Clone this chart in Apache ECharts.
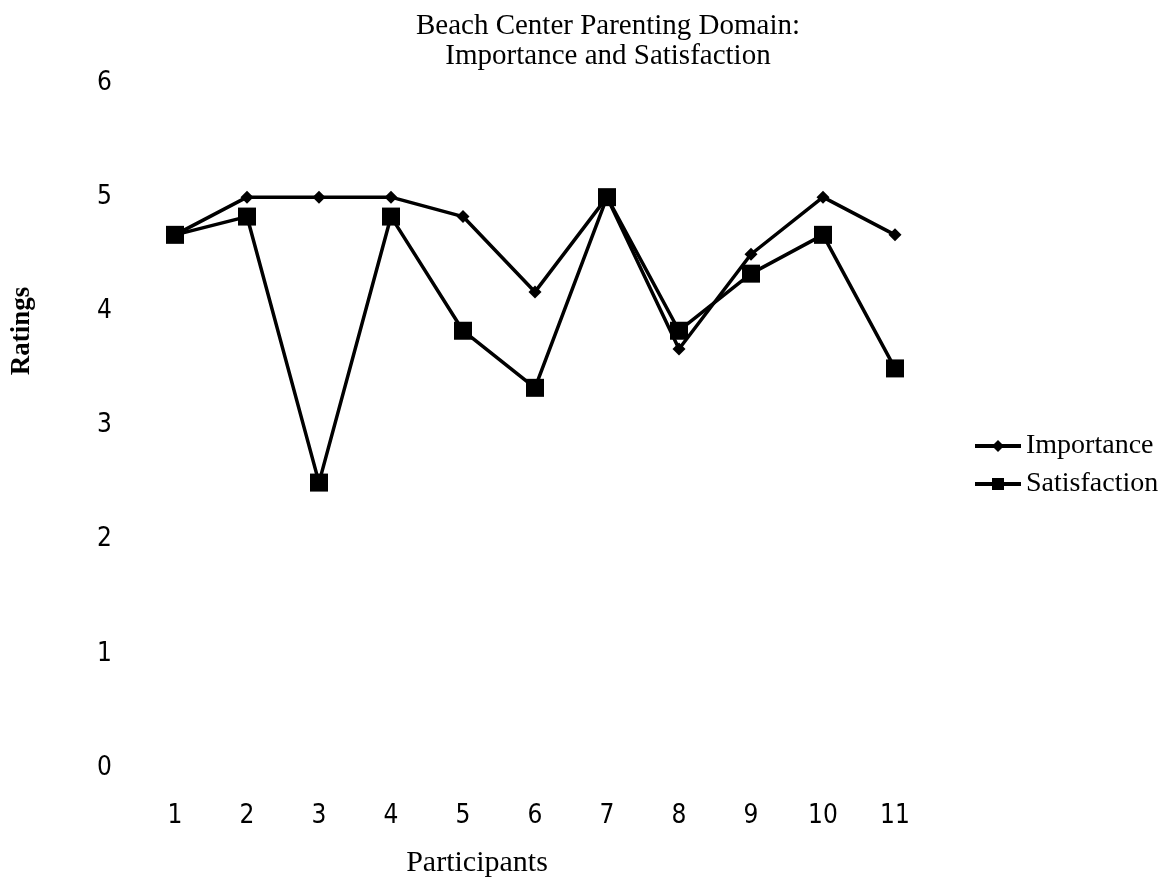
<!DOCTYPE html>
<html>
<head>
<meta charset="utf-8">
<script src="https://cdn.jsdelivr.net/npm/echarts@6/dist/echarts.min.js"></script>
<style>html,body{margin:0;padding:0;background:#fff;}#c{width:1163px;height:879px;}</style>
</head>
<body>
<div id="c"></div>
<script>
var categories = ['1','2','3','4','5','6','7','8','9','10','11'];
var importance = [4.67, 5, 5, 5, 4.83, 4.17, 5, 3.67, 4.5, 5, 4.67];
var satisfaction = [4.67, 4.83, 2.5, 4.83, 3.83, 3.33, 5, 3.83, 4.33, 4.67, 3.5];
var yTicks = [0, 1, 2, 3, 4, 5, 6];

var chart = echarts.init(document.getElementById('c'));
var serif = 'Liberation Serif';
var cond = '"Liberation Sans Narrow", "DejaVu Sans Condensed", sans-serif';
chart.setOption({
  animation: false,
  backgroundColor: '#fff',
  legend: {
    orient: 'vertical', left: 968, top: 422,
    itemWidth: 46, itemHeight: 15, itemGap: 0,
    lineStyle: {width: 4},
    textStyle: {fontFamily: serif, fontSize: 28, color: '#000', lineHeight: 38, padding: [0,0,0,0]},
    data: ['Importance', 'Satisfaction']
  },
  grid: {left: 139, top: 83, width: 792, height: 685, containLabel: false},
  xAxis: {
    type: 'category', data: categories, boundaryGap: true,
    axisLine: {show: false}, axisTick: {show: false},
    axisLabel: {fontFamily: cond, fontSize: 26, color: '#000', margin: 35}
  },
  yAxis: {
    type: 'value', min: yTicks[0], max: yTicks[yTicks.length-1], interval: 1,
    axisLine: {show: false}, axisTick: {show: false}, splitLine: {show: false},
    axisLabel: {fontFamily: cond, fontSize: 26, color: '#000', margin: 27}
  },
  graphic: [{
    type: 'text', x: 608, y: 11,
    style: {text: 'Beach Center Parenting Domain:\nImportance and Satisfaction', fontFamily: serif, fontSize: 29, lineHeight: 30, fill: '#000', align: 'center'}
  }, {
    type: 'text', x: 477, y: 863,
    style: {text: 'Participants', fontFamily: serif, fontSize: 30, fill: '#000', align: 'center', verticalAlign: 'middle'}
  }, {
    type: 'text', x: 22, y: 331, rotation: Math.PI / 2,
    style: {text: 'Ratings', fontFamily: serif, fontSize: 27, fontWeight: 'bold', fill: '#000', align: 'center', verticalAlign: 'middle'}
  }],
  series: [{
    name: 'Importance', type: 'line', data: importance,
    symbol: 'diamond', symbolSize: 13,
    lineStyle: {color: '#000', width: 3.5}, itemStyle: {color: '#000'}
  }, {
    name: 'Satisfaction', type: 'line', data: satisfaction,
    symbol: 'rect', symbolSize: 18,
    lineStyle: {color: '#000', width: 3.5}, itemStyle: {color: '#000'}
  }]
});
</script>
</body>
</html>
